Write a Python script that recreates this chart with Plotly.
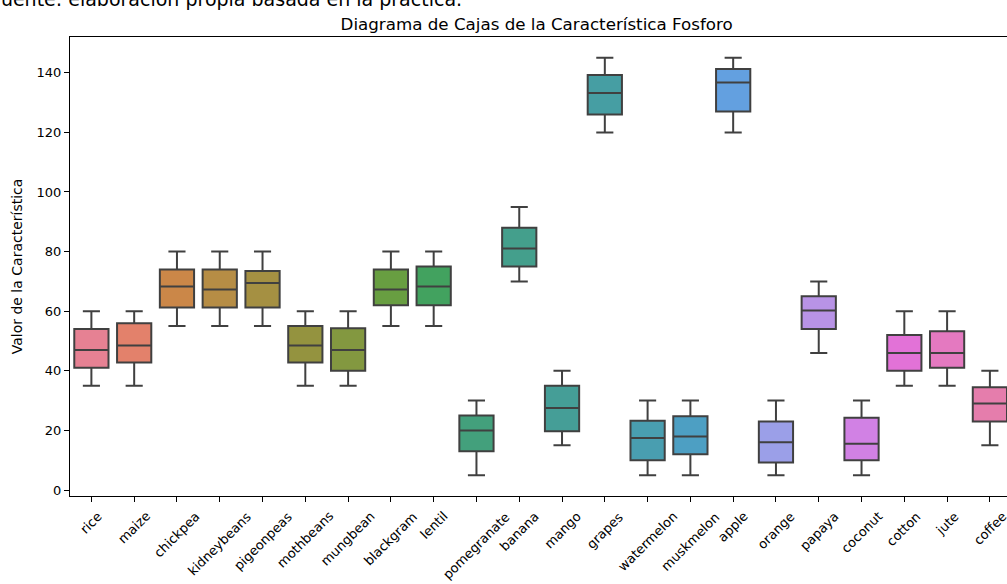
import math
import colorsys
import numpy as np
import plotly.graph_objects as go

# Phosphorus (P) distribution per crop: whisker ends, quartiles and median
cultivos = ["rice", "maize", "chickpea", "kidneybeans", "pigeonpeas", "mothbeans",
            "mungbean", "blackgram", "lentil", "pomegranate", "banana", "mango",
            "grapes", "watermelon", "muskmelon", "apple", "orange", "papaya",
            "coconut", "cotton", "jute", "coffee"]
bigote_inf = [35, 35, 55, 55, 55, 35, 35, 55, 55, 5, 70, 15,
              120, 5, 5, 120, 5, 46, 5, 35, 35, 15]
q1 = [41, 42.75, 61.25, 61.25, 61.25, 42.75, 40, 62, 62, 13, 75, 19.75,
      126, 10, 12, 127, 9.25, 54, 10, 40, 41, 23]
mediana = [47, 48.5, 68.25, 67.25, 69.5, 48.5, 47, 67.25, 68.25, 20, 81, 27.5,
           133.25, 17.5, 18, 136.75, 16, 60.25, 15.5, 46, 46, 29]
q3 = [54, 56, 74, 74, 73.5, 55, 54.25, 74, 75, 25, 88, 35,
      139.25, 23.25, 24.75, 141.25, 23, 65, 24.25, 52, 53.25, 34.5]
bigote_sup = [60, 60, 80, 80, 80, 60, 60, 80, 80, 30, 95, 40,
              145, 30, 30, 145, 30, 70, 30, 60, 60, 40]

titulo = "Diagrama de Cajas de la Característica Fosforo"
etiqueta_y = "Valor de la Característica"
fuente = "Fuente: elaboración propia basada en la práctica."
marcas_y = [0, 20, 40, 60, 80, 100, 120, 140]


# --- HUSL palette (same maths as seaborn's husl_palette) ---------------------
_M = [[3.2406, -1.5372, -0.4986],
      [-0.9689, 1.8758, 0.0415],
      [0.0557, -0.2040, 1.0570]]
_REF_U, _REF_V = 0.19784, 0.46834
_LAB_E, _LAB_K = 0.008856, 903.3


def _max_chroma(L, H):
    hrad = math.radians(H)
    sinH, cosH = math.sin(hrad), math.cos(hrad)
    sub1 = (L + 16) ** 3 / 1560896.0
    sub2 = sub1 if sub1 > _LAB_E else L / _LAB_K
    result = float("inf")
    for m1, m2, m3 in _M:
        top = (0.99915 * m1 + 1.05122 * m2 + 1.14460 * m3) * sub2
        rbottom = 0.86330 * m3 - 0.17266 * m2
        lbottom = 0.12949 * m3 - 0.38848 * m1
        bottom = (rbottom * sinH + lbottom * cosH) * sub2
        for t in (0.0, 1.0):
            C = L * (top - 1.05122 * t) / (bottom + 0.17266 * sinH * t)
            if 0.0 < C < result:
                result = C
    return result


def _f_inv(t):
    return t ** 3 if t ** 3 > _LAB_E else (116.0 * t - 16.0) / _LAB_K


def _from_linear(c):
    return 12.92 * c if c <= 0.0031308 else 1.055 * c ** (1 / 2.4) - 0.055


def husl_to_rgb(H, S, L):
    C = _max_chroma(L, H) / 100.0 * S
    U = math.cos(math.radians(H)) * C
    V = math.sin(math.radians(H)) * C
    varY = _f_inv((L + 16.0) / 116.0)
    varU = U / (13.0 * L) + _REF_U
    varV = V / (13.0 * L) + _REF_V
    Y = varY
    X = -(9.0 * Y * varU) / ((varU - 4.0) * varV - varU * varV)
    Z = (9.0 * Y - 15.0 * varV * Y - varV * X) / (3.0 * varV)
    rgb = [_from_linear(r[0] * X + r[1] * Y + r[2] * Z) for r in _M]
    return [min(max(v, 0.0), 1.0) for v in rgb]


def husl_palette(n, h=0.01, s=0.9, l=0.65):
    hues = (np.linspace(0, 1, n + 1)[:-1] + h) % 1 * 359
    return [husl_to_rgb(hh, s * 99, l * 99) for hh in hues]


def desaturate(rgb, prop):
    hh, ll, ss = colorsys.rgb_to_hls(*rgb)
    return colorsys.hls_to_rgb(hh, ll, ss * prop)


def to_hex(rgb):
    return "#%02x%02x%02x" % tuple(int(round(v * 255)) for v in rgb)


paleta = [desaturate(c, 0.75) for c in husl_palette(len(cultivos))]
colores = [to_hex(c) for c in paleta]
gris = "#404040"

FONT = "DejaVu Sans"

fig = go.Figure()
for i, nombre in enumerate(cultivos):
    fig.add_trace(go.Box(
        x=[nombre],
        lowerfence=[bigote_inf[i]],
        q1=[q1[i]],
        median=[mediana[i]],
        q3=[q3[i]],
        upperfence=[bigote_sup[i]],
        fillcolor=colores[i],
        line=dict(color=gris, width=2),
        width=0.8,
        whiskerwidth=0.5,
        boxpoints=False,
        showlegend=False,
        name=nombre,
    ))

# Rotated category labels, centred under each tick
for nombre in cultivos:
    fig.add_annotation(
        x=nombre, xref="x", y=0, yref="paper",
        text=nombre, textangle=-45,
        xanchor="center", yanchor="top", yshift=-10,
        showarrow=False,
        font=dict(family=FONT, size=13, color="#000000"),
    )

# Source line above the figure
fig.add_annotation(
    x=0, xref="paper", y=1, yref="paper",
    text=fuente, xanchor="left", yanchor="bottom",
    xshift=-81, yshift=25, showarrow=False,
    font=dict(family=FONT, size=19, color="#000000"),
)

fig.update_layout(
    width=1007, height=584,
    margin=dict(l=70, r=0, t=37, b=88),
    paper_bgcolor="white", plot_bgcolor="white",
    boxmode="overlay",
    font=dict(family=FONT, size=13, color="#000000"),
    title=dict(
        text=titulo, x=0.498, xref="paper", xanchor="center",
        y=1 - 30 / 584, yref="container", yanchor="bottom",
        font=dict(family=FONT, size=16.7, color="#000000"),
    ),
)
fig.update_xaxes(
    type="category", range=[-0.5, 21.4],
    showgrid=False, zeroline=False,
    showline=True, linecolor="#000000", linewidth=1, mirror=True,
    ticks="outside", ticklen=5, tickwidth=1, tickcolor="#000000",
    showticklabels=False,
)
fig.update_yaxes(
    range=[-2, 152], tickvals=marcas_y,
    showgrid=False, zeroline=False,
    showline=True, linecolor="#000000", linewidth=1,
    ticks="outside", ticklen=5, tickwidth=1, tickcolor="#000000",
    tickfont=dict(family=FONT, size=13, color="#000000"),
    title=dict(text=etiqueta_y, standoff=10,
               font=dict(family=FONT, size=14, color="#000000")),
)

fig.write_html("out.html")
